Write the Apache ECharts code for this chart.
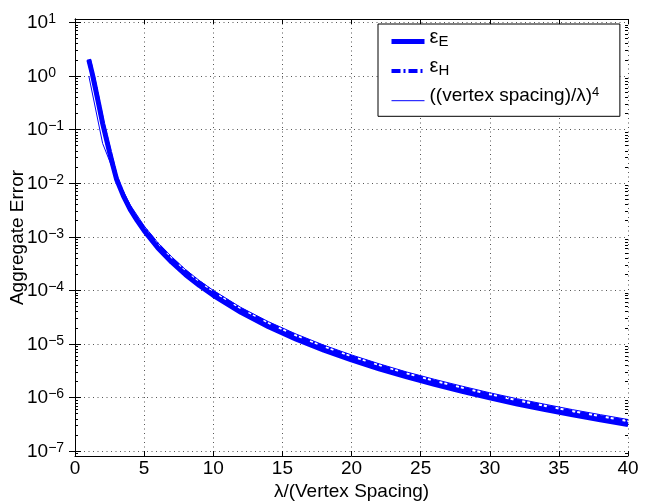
<!DOCTYPE html>
<html><head><meta charset="utf-8">
<script src="https://cdn.jsdelivr.net/npm/echarts@6/dist/echarts.min.js"></script>
<style>html,body{margin:0;padding:0;background:#fff}#c{width:654px;height:501px}</style>
</head><body><div id="c"></div>
<script>
// ---- data ----
const xSim = [1,1.25,1.5,1.75,2,2.25,2.5,2.75,3,3.5,4,4.5,5,6,7,8,9,10,12,14,16,18,20,22,24,26,28,30,32,34,36,38,40];
const epsE = [2.0,1.1,0.55,0.27,0.13,0.07,0.038,0.021,0.012,0.0058,0.0032,0.002,0.0013,6.2e-4,3.35e-4,1.96e-4,1.23e-4,8.1e-5,3.9e-5,2.1e-5,1.23e-5,7.7e-6,5.05e-6,3.45e-6,2.43e-6,1.76e-6,1.31e-6,9.9e-7,7.6e-7,6.0e-7,4.78e-7,3.85e-7,3.13e-7];
const epsH = [2.05,1.13,0.565,0.275,0.133,0.072,0.039,0.0215,0.0124,0.006,0.0033,0.0021,0.00142,7.0e-4,3.8e-4,2.22e-4,1.39e-4,9.1e-5,4.4e-5,2.37e-5,1.39e-5,8.7e-6,5.7e-6,3.9e-6,2.75e-6,1.99e-6,1.48e-6,1.12e-6,8.6e-7,6.8e-7,5.4e-7,4.36e-7,3.55e-7];
const xRef = [1,2,3,4,5,6,7,8,9,10,12,14,16,18,20,22,24,26,28,30,32,34,36,38,40];
const refVals = [1,0.055,0.0123,0.0039,0.0016,7.7e-4,4.2e-4,2.44e-4,1.52e-4,1.0e-4,4.8e-5,2.6e-5,1.53e-5,9.5e-6,6.25e-6,4.27e-6,3.0e-6,2.19e-6,1.63e-6,1.23e-6,9.5e-7,7.5e-7,5.95e-7,4.8e-7,3.9e-7];
const yTickValues = [1e-7,1e-6,1e-5,1e-4,1e-3,1e-2,1e-1,1,10];
const xTickInterval = 5;
const seriesNames = ['ε_E','ε_H','ref'];

// minor ticks (2..9 within each decade)
const yMinorValues = [9e-8];
yTickValues.forEach(d => { for (let k = 2; k <= 9; k++) { const v = d * k; if (v <= 11.5) yMinorValues.push(v); } });

const FONT = '"Liberation Sans", Arial, Helvetica, sans-serif';
const BLUE = '#0000ff';
const chart = echarts.init(document.getElementById('c'), null, {renderer: 'canvas'});

const yMin = Math.pow(10, -7.09), yMax = Math.pow(10, 1.063);

function supLabel(v) {
  const e = Math.round(Math.log10(v));
  return '{b|10}{s|' + (e < 0 ? '\u2212' + (-e) : e) + '}';
}

const baseY = {
  type: 'log', min: yMin, max: yMax, gridIndex: 0,
  axisLine: {show: false}, axisLabel: {show: false}, splitLine: {show: false},
  axisTick: {show: false}
};

const option = {
  animation: false,
  backgroundColor: '#fff',
  textStyle: {fontFamily: FONT, color: '#000'},
  grid: {left: 75, right: 26, top: 19, bottom: 45, containLabel: false, outerBoundsMode: 'none'},
  legend: {
    data: seriesNames,
    orient: 'vertical',
    left: 378, top: 24,
    padding: [3, 20, 4, 11],
    itemGap: 3.5,
    itemWidth: 33, itemHeight: 29,
    itemTextGap: 11,
    backgroundColor: '#fff',
    borderColor: '#000', borderWidth: 1, borderRadius: 0,
    lineStyle: {width: 'inherit'},
    itemStyle: {color: 'rgba(0,0,0,0)', borderColor: 'rgba(0,0,0,0)', borderWidth: 0},
    selectedMode: false,
    textStyle: {
      fontFamily: FONT, color: '#000',
      rich: {
        g: {fontFamily: FONT, fontSize: 20, lineHeight: 12, verticalAlign: 'top', color: '#000'},
        sb: {fontFamily: FONT, fontSize: 15, lineHeight: 29, verticalAlign: 'middle', color: '#000'},
        t: {fontFamily: FONT, fontSize: 19, lineHeight: 14, verticalAlign: 'top', color: '#000'},
        sp: {fontFamily: FONT, fontSize: 13, lineHeight: 1, verticalAlign: 'top', color: '#000'},
        h: {fontFamily: FONT, fontSize: 2, lineHeight: 29}
      }
    },
    formatter: function (name) {
      if (name === 'ε_E') return '{g|ε}{sb|E}';
      if (name === 'ε_H') return '{g|ε}{sb|H}';
      return '{t|((vertex spacing)/λ)}{sp|4}{h| }';
    }
  },
  xAxis: [
    {
      type: 'value', min: 0, max: 40, interval: xTickInterval, position: 'bottom',
      name: 'λ/(Vertex Spacing)', nameLocation: 'middle', nameGap: 26, nameMoveOverlap: false,
      nameTextStyle: {fontFamily: FONT, fontSize: 19, color: '#000'},
      axisLine: {show: true, lineStyle: {color: '#000', width: 1}},
      axisTick: {show: true, inside: true, length: 5, lineStyle: {color: '#000'}},
      axisLabel: {fontFamily: FONT, fontSize: 19, color: '#000', margin: 3},
      splitLine: {show: true, lineStyle: {color: '#555', width: 1, type: [1, 3.5]}}
    },
    {
      type: 'value', min: 0, max: 40, interval: xTickInterval, position: 'top', gridIndex: 0,
      axisLine: {show: true, lineStyle: {color: '#000', width: 1}},
      axisTick: {show: true, inside: true, length: 5, lineStyle: {color: '#000'}},
      axisLabel: {show: false}, splitLine: {show: false}
    }
  ],
  yAxis: [
    {
      type: 'log', min: yMin, max: yMax, position: 'left',
      name: 'Aggregate Error', nameLocation: 'middle', nameGap: 48, nameRotate: 90, nameMoveOverlap: false,
      nameTextStyle: {fontFamily: FONT, fontSize: 19, color: '#000'},
      axisLine: {show: true, lineStyle: {color: '#000', width: 1}},
      axisTick: {show: true, inside: true, length: 6, customValues: yTickValues, lineStyle: {color: '#000'}},
      axisLabel: {
        customValues: yTickValues, align: 'left', margin: 48,
        formatter: supLabel,
        rich: {
          b: {fontFamily: FONT, fontSize: 19, lineHeight: 20, verticalAlign: 'bottom', color: '#000'},
          s: {fontFamily: FONT, fontSize: 14, lineHeight: 4, verticalAlign: 'top', color: '#000'}
        }
      },
      splitLine: {show: true, lineStyle: {color: '#555', width: 1, type: [1, 3.5]}}
    },
    {
      type: 'log', min: yMin, max: yMax, position: 'right', gridIndex: 0,
      axisLine: {show: true, lineStyle: {color: '#000', width: 1}},
      axisTick: {show: true, inside: true, length: 6, customValues: yTickValues, lineStyle: {color: '#000'}},
      axisLabel: {show: false}, splitLine: {show: false}
    },
    Object.assign({}, baseY, {position: 'left',
      axisTick: {show: true, inside: true, length: 3, customValues: yMinorValues, lineStyle: {color: '#000'}}}),
    Object.assign({}, baseY, {position: 'right',
      axisTick: {show: true, inside: true, length: 3, customValues: yMinorValues, lineStyle: {color: '#000'}}})
  ],
  series: [
    {
      name: 'ε_H', type: 'line', xAxisIndex: 0, yAxisIndex: 0,
      data: xSim.map((x, i) => [x, epsH[i]]),
      symbol: 'none', showSymbol: false, smooth: false,
      lineStyle: {color: BLUE, width: 4, type: [9, 3, 2, 3]},
      itemStyle: {color: BLUE}
    },
    {
      name: 'ε_E', type: 'line', xAxisIndex: 0, yAxisIndex: 0,
      data: xSim.map((x, i) => [x, epsE[i]]),
      symbol: 'none', showSymbol: false, smooth: false,
      lineStyle: {color: BLUE, width: 5, type: 'solid'},
      itemStyle: {color: BLUE}
    },
    {
      name: 'ref', type: 'line', xAxisIndex: 0, yAxisIndex: 0,
      data: xRef.map((x, i) => [x, refVals[i]]),
      symbol: 'none', showSymbol: false, smooth: false,
      lineStyle: {color: BLUE, width: 1, type: 'solid'},
      itemStyle: {color: BLUE}
    }
  ]
};
chart.setOption(option);
</script>
</body></html>
